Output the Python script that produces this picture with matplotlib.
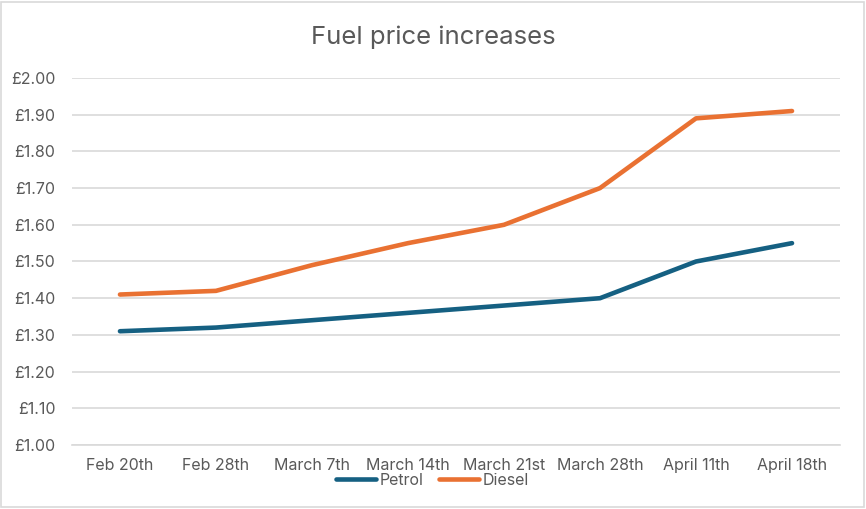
import matplotlib
matplotlib.use("Agg")
import matplotlib.pyplot as plt
from matplotlib.patches import Rectangle
from matplotlib.ticker import FuncFormatter, MultipleLocator

# Weekly pump prices (GBP per litre)
dates = ["Feb 20th", "Feb 28th", "March 7th", "March 14th",
         "March 21st", "March 28th", "April 11th", "April 18th"]
petrol = [1.31, 1.32, 1.34, 1.36, 1.38, 1.40, 1.50, 1.55]
diesel = [1.41, 1.42, 1.49, 1.55, 1.60, 1.70, 1.89, 1.91]

plt.rcParams["font.family"] = ["Inter", "DejaVu Sans"]
TEXT = "#595959"
GRID = "#d9d9d9"

fig = plt.figure(figsize=(8.66, 5.09), dpi=100)
ax = fig.add_axes([0.0831, 0.1257, 0.8869, 0.7211])

x = range(len(dates))
ax.plot(x, petrol, color="#156082", lw=3.3, solid_capstyle="round",
        solid_joinstyle="round", label="Petrol")
ax.plot(x, diesel, color="#E97132", lw=3.3, solid_capstyle="round",
        solid_joinstyle="round", label="Diesel")

ax.set_xlim(-0.5, len(dates) - 0.5)
ax.set_ylim(1.0, 2.0)
ax.yaxis.set_major_locator(MultipleLocator(0.1))
ax.yaxis.set_major_formatter(FuncFormatter(lambda v, _: f"£{v:.2f}"))
ax.set_xticks(list(x))
ax.set_xticklabels(dates)
ax.tick_params(axis="both", length=0, labelsize=11.5, colors=TEXT)
ax.tick_params(axis="x", pad=9)
ax.tick_params(axis="y", pad=12)
ax.grid(axis="y", color=GRID, lw=1.2)
ax.set_axisbelow(True)
for side in ["left", "right", "top"]:
    ax.spines[side].set_visible(False)
ax.spines["bottom"].set_color(GRID)
ax.spines["bottom"].set_linewidth(1.2)

fig.text(0.5, 0.927, "Fuel price increases", ha="center", va="center",
         fontsize=18.5, color=TEXT)

fig.legend(loc="center", bbox_to_anchor=(0.4994, 0.056), ncol=2, frameon=False,
           fontsize=11.5, labelcolor=TEXT, handlelength=2.5, handletextpad=0.2,
           columnspacing=1.0)

fig.patches.append(Rectangle((0.001, 0.003), 0.997, 0.994, transform=fig.transFigure,
                             fill=False, edgecolor=GRID, lw=1.2))

fig.savefig("out.png", dpi=100)
